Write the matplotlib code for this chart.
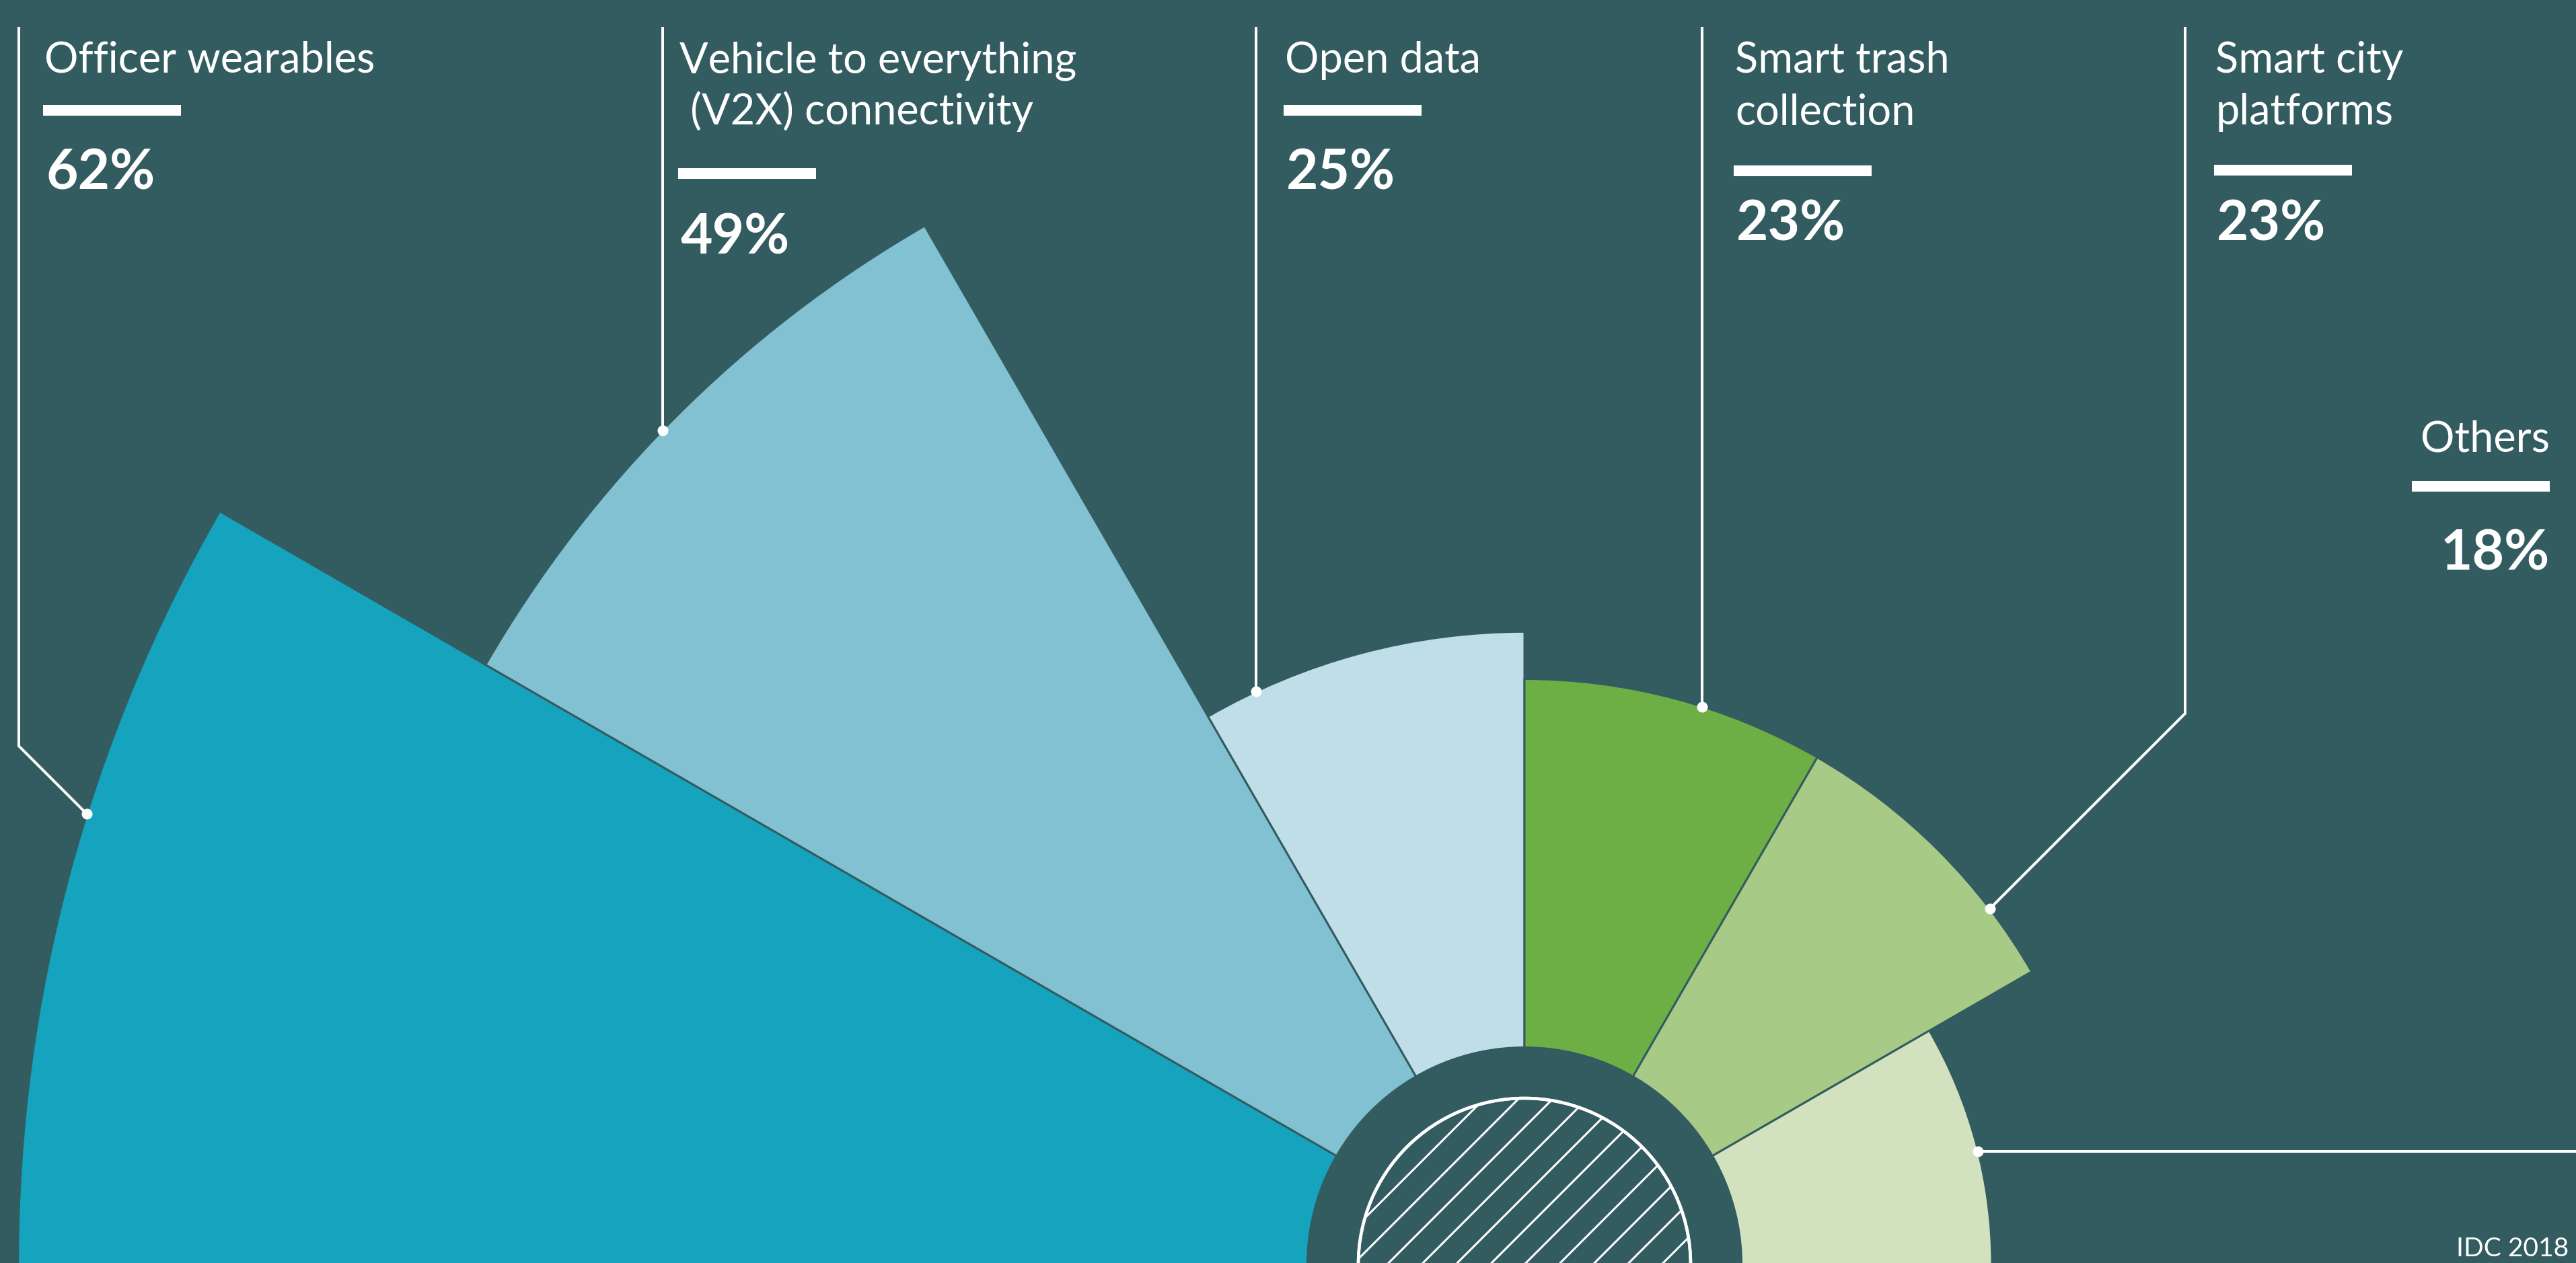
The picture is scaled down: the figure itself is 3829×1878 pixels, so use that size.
import numpy as np
import matplotlib
matplotlib.use("Agg")
import matplotlib.pyplot as plt
from matplotlib.patches import Circle, Rectangle

# ---------------- data ----------------
categories = ["Officer wearables",
              "Vehicle to everything\n (V2X) connectivity",
              "Open data",
              "Smart trash\ncollection",
              "Smart city\nplatforms",
              "Others"]
values = [62, 49, 25, 23, 23, 18]
pct_labels = ["62%", "49%", "25%", "23%", "23%", "18%"]
colors = ["#15a3bd", "#82c1d2", "#c0dee7", "#6daf45", "#a7ca86", "#d2e2be"]
source = "IDC 2018"

# ---------------- layout ----------------
W, H = 3829, 1878
DPI = 300
BG = "#335c60"
FONT = ["Lato", "DejaVu Sans"]
PT = 72.0 / DPI  # points per pixel

fig = plt.figure(figsize=(W / DPI, H / DPI), dpi=DPI, facecolor=BG)

CX, CY = 2266, 1880          # centre of the rose (pixels, top-down)
R_ORIGIN, R_TOP = -1.8, 70.0
PX_PER_UNIT = 35.1
R = (R_TOP - R_ORIGIN) * PX_PER_UNIT
pax = fig.add_axes([(CX - R) / W, (H - CY - R) / H, 2 * R / W, 2 * R / H],
                   projection="polar")
pax.set_ylim(R_ORIGIN, R_TOP)
pax.set_axis_off()

n = len(values)
width = np.pi / n
theta = np.pi - width * (np.arange(n) + 0.5)
pax.bar(theta, values, width=width, bottom=0, color=colors,
        edgecolor=BG, linewidth=3 * PT, align="center", zorder=2)

# overlay axes in pixel coordinates
ov = fig.add_axes([0, 0, 1, 1], zorder=5)
ov.set_xlim(0, W)
ov.set_ylim(H, 0)
ov.axis("off")
ov.patch.set_alpha(0)


def to_px(th, r):
    d = pax.transData.transform((th, r))
    return ov.transData.inverted().transform(d)


cx, cy = to_px(0.0, R_ORIGIN)

# centre discs
ov.add_patch(Circle((cx, cy), 324, fc=BG, ec="none", zorder=3))
inner = Circle((cx, cy), 247, fc=BG, ec="white", lw=4.5 * PT, zorder=4.5)
ov.add_patch(inner)
ov.add_patch(Circle((cx, cy), 247, fc="none", ec="white", lw=4.5 * PT, zorder=4.7))
HATCH_STEP = 51
for k in range(-12, 13):
    c = cx + cy + k * HATCH_STEP
    xs = np.array([cx - 300, cx + 300])
    ys = c - xs
    ln, = ov.plot(xs, ys, color="white", lw=3 * PT, zorder=4.6,
                  solid_capstyle="butt")
    ln.set_clip_path(inner)

# connectors
LINE_TOP = 40
LW = 4 * PT
MS = 16 * PT
line_x = [28, 985, 1867, 2530, 3248, None]
dot_angle = [162.6, None, None, None, 37.4, 14.0]

for i, v in enumerate(values):
    rpx = np.hypot(*(to_px(0.0, v) - np.array([cx, cy])))
    if dot_angle[i] is None:
        th = np.arccos((line_x[i] - cx) / rpx)
    else:
        th = np.deg2rad(dot_angle[i])
    dx, dy = to_px(th, v)
    if i == n - 1:
        xs, ys = [dx, W + 5], [dy, dy]
    elif dot_angle[i] is None:
        xs, ys = [line_x[i], line_x[i]], [LINE_TOP, dy]
    else:
        k = abs(line_x[i] - dx)
        xs = [line_x[i], line_x[i], dx]
        ys = [LINE_TOP, dy - k, dy]
    ov.plot(xs, ys, color="white", lw=LW, solid_capstyle="butt",
            solid_joinstyle="miter", zorder=6, clip_on=False)
    ov.plot([dx], [dy], "o", color="white", ms=MS, mec="none", zorder=7)

# labels
LBL_FS = 63 * PT
PCT_FS = 82 * PT
text_x = [66, 1010, 1910, 2579, 3293, 3790]
first_base = [108, 108, 108, 108, 108, 672]
bar_top = [156, 250, 156, 246, 245, 715]
pct_base = [282, 377, 282, 358, 358, 847]
BAR_W, BAR_H = 205, 16

for i, lab in enumerate(categories):
    right = (i == n - 1)
    ha = "right" if right else "left"
    for j, line in enumerate(lab.split("\n")):
        ov.text(text_x[i], first_base[i] + 77 * j, line, color="white",
                fontsize=LBL_FS, family=FONT, ha=ha, va="baseline", zorder=8)
    bx = text_x[i] - BAR_W if right else text_x[i] - 2
    ov.add_patch(Rectangle((bx, bar_top[i]), BAR_W, BAR_H, fc="white",
                           ec="none", zorder=8))
    ov.text(text_x[i] + (0 if right else 2), pct_base[i], pct_labels[i],
            color="white", fontsize=PCT_FS, fontweight="bold", family=FONT,
            ha=ha, va="baseline", zorder=8)

ov.text(3818, 1868, source, color="white", fontsize=39 * PT, family=FONT,
        ha="right", va="baseline", zorder=8)

fig.savefig("out.png", dpi=DPI, facecolor=BG)
